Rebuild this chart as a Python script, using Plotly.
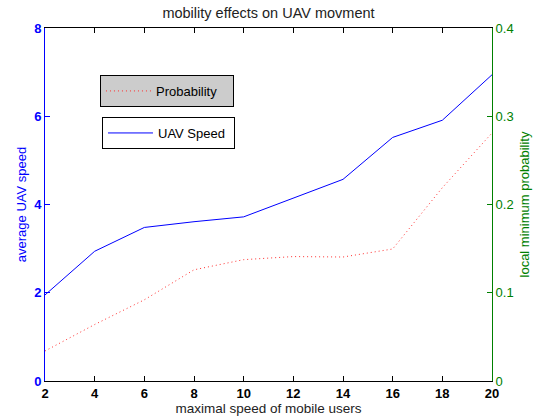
import plotly.graph_objects as go

speeds = [2, 4, 6, 8, 10, 12, 14, 16, 18, 20]
uav_speed = [1.95, 2.94, 3.48, 3.61, 3.72, 4.15, 4.57, 5.52, 5.91, 6.94]
probability = [0.034, 0.064, 0.092, 0.126, 0.1375, 0.141, 0.1405, 0.1496, 0.219, 0.281]
left_ticks = [0, 2, 4, 6, 8]
right_ticks = [0, 0.1, 0.2, 0.3, 0.4]
x_ticks = [2, 4, 6, 8, 10, 12, 14, 16, 18, 20]

FONT = "Liberation Sans, Arial, Helvetica, sans-serif"
BLUE = "#0000ff"
GREEN = "#008000"
PAD = "\u00a0" * 3

fig = go.Figure()
fig.add_trace(go.Scatter(
    x=speeds, y=probability, name="Probability" + PAD, mode="lines",
    line=dict(color="#ff3030", width=1, dash="1px,3px"),
    yaxis="y2", legend="legend", showlegend=True))
fig.add_trace(go.Scatter(
    x=speeds, y=uav_speed, name="UAV Speed" + "\u00a0", mode="lines",
    line=dict(color=BLUE, width=1),
    yaxis="y", legend="legend2", showlegend=True))

fig.update_layout(
    width=538, height=417,
    margin=dict(l=45, r=46, t=28, b=36, autoexpand=False),
    paper_bgcolor="white", plot_bgcolor="white",
    showlegend=True,
    font=dict(family=FONT, size=13, color="black"),
    title=dict(text="mobility effects on UAV movment", x=0.5, xanchor="center",
               xref="paper", yref="container", y=1 - 13 / 417, yanchor="middle",
               font=dict(size=14.5, color="#222222")),
    xaxis=dict(range=[2, 20], tickvals=x_ticks, ticktext=[f"<b>{v}</b>" for v in x_ticks],
               ticks="inside", ticklen=5, tickcolor="black",
               showline=True, linecolor="black", linewidth=1, mirror="ticks",
               showgrid=False, zeroline=False, automargin=False,
               tickfont=dict(size=13, color="black"),
               title=dict(text="maximal speed of mobile users", standoff=0,
                          font=dict(size=13.5, color="#222222"))),
    yaxis=dict(range=[0, 8], tickvals=left_ticks, ticktext=[f"<b>{v}</b>" for v in left_ticks],
               ticks="inside", ticklen=5, tickcolor=BLUE,
               showline=True, linecolor=BLUE, linewidth=1,
               showgrid=False, zeroline=False, automargin=False,
               tickfont=dict(size=13, color=BLUE),
               title=dict(text="average UAV speed", standoff=4,
                          font=dict(size=13, color=BLUE))),
    yaxis2=dict(range=[0, 0.4], tickvals=right_ticks, ticktext=["0", "0.1", "0.2", "0.3", "0.4"],
                overlaying="y", side="right",
                ticks="inside", ticklen=5, tickcolor=GREEN,
                showline=True, linecolor=GREEN, linewidth=1,
                showgrid=False, zeroline=False, automargin=False,
                tickfont=dict(size=13, color=GREEN),
                title=dict(text="local minimum probability", standoff=7,
                           font=dict(size=13, color=GREEN))),
    legend=dict(x=0.123, y=0.8669, xanchor="left", yanchor="top",
                xref="paper", yref="paper",
                bgcolor="#cccccc", bordercolor="black", borderwidth=1,
                font=dict(size=13, color="black"), itemwidth=45,
                tracegroupgap=0),
    legend2=dict(x=0.1275, y=0.7479, xanchor="left", yanchor="top",
                 xref="paper", yref="paper",
                 bgcolor="white", bordercolor="black", borderwidth=1,
                 font=dict(size=13, color="black"), itemwidth=45,
                 tracegroupgap=0),
)

fig.write_html("out.html", config={"displayModeBar": False},
               post_script="document.body.style.margin='0';")
